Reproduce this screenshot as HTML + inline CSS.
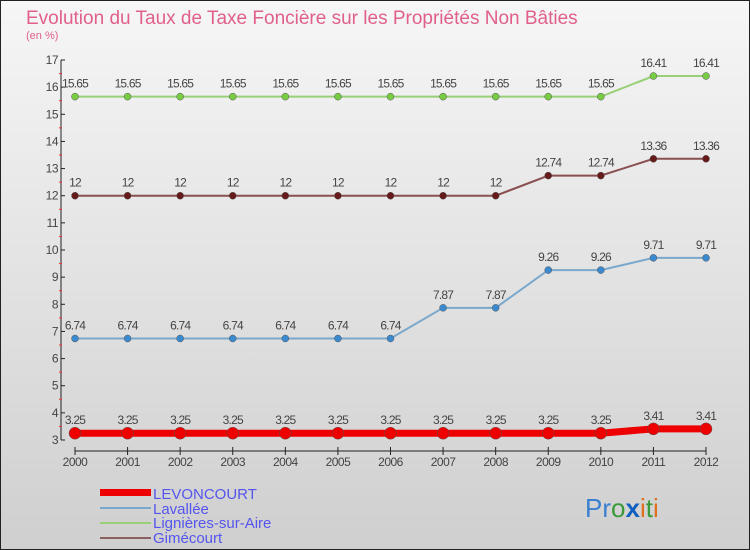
<!DOCTYPE html>
<html><head><meta charset="utf-8"><style>
body{margin:0;width:750px;height:550px;overflow:hidden;font-family:"Liberation Sans",sans-serif}
#c{position:absolute;left:0;top:0;width:748px;height:548px;border:1px solid #222;background:linear-gradient(#f6f6f6,#cfcfcf)}
</style></head><body>
<div id="c">
<svg id="s" width="750" height="550" style="position:absolute;left:-1px;top:-1px">
<text x="26" y="24" font-size="19" fill="#e0608a">Evolution du Taux de Taxe Foncière sur les Propriétés Non Bâties</text>
<text x="26" y="39" font-size="11" fill="#e0608a">(en %)</text>
<g id="axes"></g><g id="series"></g>
<g>
<rect x="100" y="489" width="51" height="7" fill="#e00"/>
<text x="153" y="499" font-size="15" fill="#5555ee">LEVONCOURT</text>
<line x1="100" y1="508" x2="151" y2="508" stroke="#7aa8cc" stroke-width="2"/>
<text x="153" y="514" font-size="15" fill="#5555ee">Lavallée</text>
<line x1="100" y1="523" x2="151" y2="523" stroke="#99d077" stroke-width="2"/>
<text x="153" y="528" font-size="15" fill="#5555ee">Lignières-sur-Aire</text>
<line x1="100" y1="538" x2="151" y2="538" stroke="#8a6060" stroke-width="2"/>
<text x="153" y="543" font-size="15" fill="#5555ee">Gimécourt</text>
</g>
<text x="585" y="517" font-size="26"><tspan fill="#3a7fd0">Pr</tspan><tspan fill="#3a9a3a">o</tspan><tspan fill="#1060c0" font-weight="bold">x</tspan><tspan fill="#e07020">i</tspan><tspan fill="#3a9a3a">t</tspan><tspan fill="#e07020">i</tspan></text>
</svg></div>
<script>
const years=[2000,2001,2002,2003,2004,2005,2006,2007,2008,2009,2010,2011,2012];
const levoncourt=[3.25,3.25,3.25,3.25,3.25,3.25,3.25,3.25,3.25,3.25,3.25,3.41,3.41];
const lavallee=[6.74,6.74,6.74,6.74,6.74,6.74,6.74,7.87,7.87,9.26,9.26,9.71,9.71];
const lignieres=[15.65,15.65,15.65,15.65,15.65,15.65,15.65,15.65,15.65,15.65,15.65,16.41,16.41];
const gimecourt=[12,12,12,12,12,12,12,12,12,12.74,12.74,13.36,13.36];
const yTicks=[3,4,5,6,7,8,9,10,11,12,13,14,15,16,17];
const NS="http://www.w3.org/2000/svg";
const x=i=>75+i*(706-75)/(years.length-1);
const y=v=>440-(v-3)*(380/14);
function mk(t,a,p){const e=document.createElementNS(NS,t);for(const k in a)e.setAttribute(k,a[k]);p.appendChild(e);return e;}
const ax=document.getElementById('axes');
let e=mk('line',{x1:61,y1:y(17),x2:61,y2:y(3),stroke:'#222'},ax);


yTicks.forEach(v=>{
 mk('line',{x1:61,y1:y(v),x2:65,y2:y(v),stroke:'#222'},ax);
 if(v<17)mk('line',{x1:59,y1:y(v+0.5),x2:62,y2:y(v+0.5),stroke:'#e33'},ax);
 const t=mk('text',{x:58,y:y(v)+4,'font-size':12,'text-anchor':'end',fill:'#444','letter-spacing':'-0.5'},ax);t.textContent=v;
 
 
});
e=mk('line',{x1:x(0),y1:451,x2:x(12),y2:451,stroke:'#222'},ax);


years.forEach((yr,i)=>{
 mk('line',{x1:x(i),y1:447,x2:x(i),y2:455,stroke:'#222'},ax);
 const t=mk('text',{x:x(i),y:466,'font-size':12,'text-anchor':'middle',fill:'#444','letter-spacing':'-0.5'},ax);t.textContent=yr;
 
 
});
const sg=document.getElementById('series');
function series(name,vals,col,dot,w,r){
 const g=mk('g',{},sg);
 
 
 const p=mk('polyline',{points:vals.map((v,i)=>x(i)+','+y(v)).join(' '),fill:'none',stroke:col,'stroke-width':w},g);
 
 
 vals.forEach((v,i)=>{
  const c=mk('circle',{cx:x(i),cy:y(v),r:r,fill:dot,stroke:'#555','stroke-width':0.5},g);
  
  
  const t=mk('text',{x:x(i),y:y(v)-9,'font-size':12,'text-anchor':'middle',fill:'#444','letter-spacing':'-0.8'},g);
  t.textContent=String(v);
  
  
 });
}
series('lignieres',lignieres,'#99d077','#77cc44',2,3.5);
series('gimecourt',gimecourt,'#8a5050','#661a1a',2,3.5);
series('lavallee',lavallee,'#7aa8cc','#3b8ad0',2,3.5);
series('levoncourt',levoncourt,'#e00','#e00',7,6);
</script>
</body></html>
